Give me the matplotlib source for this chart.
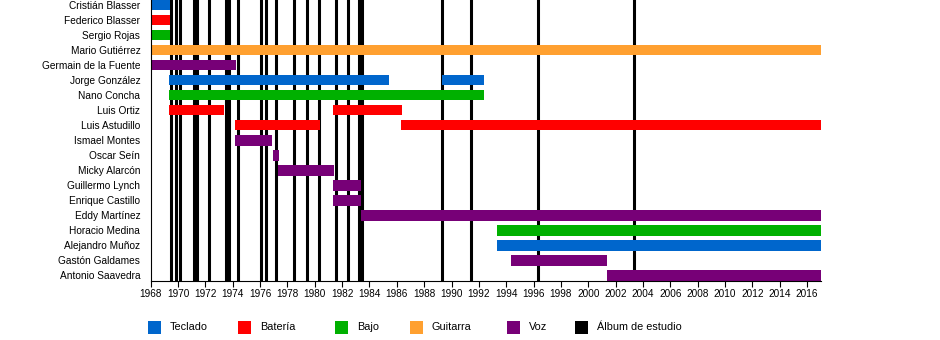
import matplotlib
matplotlib.use("Agg")
import matplotlib.pyplot as plt
from matplotlib.patches import Rectangle

plt.rcParams["font.family"] = ["Liberation Sans", "DejaVu Sans"]

# Integrantes, de arriba hacia abajo
members = [
    "Cristián Blasser", "Federico Blasser", "Sergio Rojas", "Mario Gutiérrez",
    "Germain de la Fuente", "Jorge González", "Nano Concha", "Luis Ortiz",
    "Luis Astudillo", "Ismael Montes", "Oscar Seín", "Micky Alarcón",
    "Guillermo Lynch", "Enrique Castillo", "Eddy Martínez", "Horacio Medina",
    "Alejandro Muñoz", "Gastón Galdames", "Antonio Saavedra",
]

roles = ["Teclado", "Batería", "Bajo", "Guitarra", "Voz", "Álbum de estudio"]
role_colors = ["#0066cc", "#ff0000", "#00b000", "#ffa030", "#770077", "#000000"]

# Periodos: integrante, rol, inicio, fin
bar_member = [
    "Cristián Blasser", "Federico Blasser", "Sergio Rojas", "Mario Gutiérrez",
    "Germain de la Fuente", "Jorge González", "Jorge González", "Nano Concha",
    "Luis Ortiz", "Luis Ortiz", "Luis Astudillo", "Luis Astudillo",
    "Ismael Montes", "Oscar Seín", "Micky Alarcón", "Guillermo Lynch",
    "Enrique Castillo", "Eddy Martínez", "Horacio Medina", "Alejandro Muñoz",
    "Gastón Galdames", "Antonio Saavedra",
]
bar_role = [
    "Teclado", "Batería", "Bajo", "Guitarra",
    "Voz", "Teclado", "Teclado", "Bajo",
    "Batería", "Batería", "Batería", "Batería",
    "Voz", "Voz", "Voz", "Voz",
    "Voz", "Voz", "Bajo", "Teclado",
    "Voz", "Voz",
]
bar_start = [
    1968.0, 1968.0, 1968.0, 1968.0,
    1968.0, 1969.35, 1989.3, 1969.35,
    1969.35, 1981.35, 1974.17, 1986.33,
    1974.17, 1976.95, 1977.3, 1981.35,
    1981.35, 1983.35, 1993.35, 1993.35,
    1994.37, 2001.35,
]
bar_end = [
    1969.4, 1969.4, 1969.4, 2017.0,
    1974.24, 1985.41, 1992.4, 1992.4,
    1973.34, 1986.4, 1980.4, 2017.0,
    1976.87, 1977.4, 1981.42, 1983.41,
    1983.41, 2017.0, 2017.0, 2017.0,
    2001.4, 2017.0,
]

# Fechas de los álbumes de estudio
albums = [
    1969.52, 1969.85, 1970.17, 1971.15, 1971.42, 1972.24, 1973.48, 1973.75,
    1974.42, 1976.08, 1976.44, 1977.18, 1978.45, 1979.44, 1980.34, 1981.57,
    1982.41, 1983.25, 1983.42, 1989.34, 1991.39, 1996.36, 2003.38,
]

year_ticks = list(range(1968, 2017, 2))

fig = plt.figure(figsize=(9.4, 3.4), dpi=100)
ax = fig.add_axes((0.1603, 0.175, 0.7128, 0.825))

color_of = dict(zip(roles, role_colors))
row_of = {m: i for i, m in enumerate(members)}

for year in albums:
    ax.axvline(year, color="black", linewidth=2.2, zorder=1)

for m, r, s, e in zip(bar_member, bar_role, bar_start, bar_end):
    ax.barh(row_of[m], e - s, left=s, height=0.7, color=color_of[r],
            linewidth=0, zorder=2)

ax.set_xlim(1968, 2017)
ax.set_ylim(len(members) - 1 + 0.34, -0.34)
ax.set_yticks(range(len(members)))
ax.set_yticklabels(members, fontsize=7.3)
ax.set_xticks(year_ticks)
ax.set_xticklabels([str(y) for y in year_ticks], fontsize=7.2)
ax.tick_params(axis="y", length=0, pad=7.5)
ax.tick_params(axis="x", length=4, width=0.8, pad=2)

ax.spines["top"].set_visible(False)
ax.spines["right"].set_visible(False)
ax.spines["left"].set_linewidth(0.8)
ax.spines["bottom"].set_linewidth(0.8)
ax.spines["left"].set_zorder(3)

# Leyenda dibujada a mano en la parte inferior
legend_x = [148, 238, 335, 410, 507, 575]
for x, name, col in zip(legend_x, roles, role_colors):
    fig.add_artist(Rectangle((x / 940, 6 / 340), 13 / 940, 13 / 340,
                             transform=fig.transFigure, color=col, linewidth=0))
    fig.text((x + 22) / 940, 12.5 / 340, name, fontsize=7.8, va="center", ha="left")

fig.savefig("out.png", dpi=100)
